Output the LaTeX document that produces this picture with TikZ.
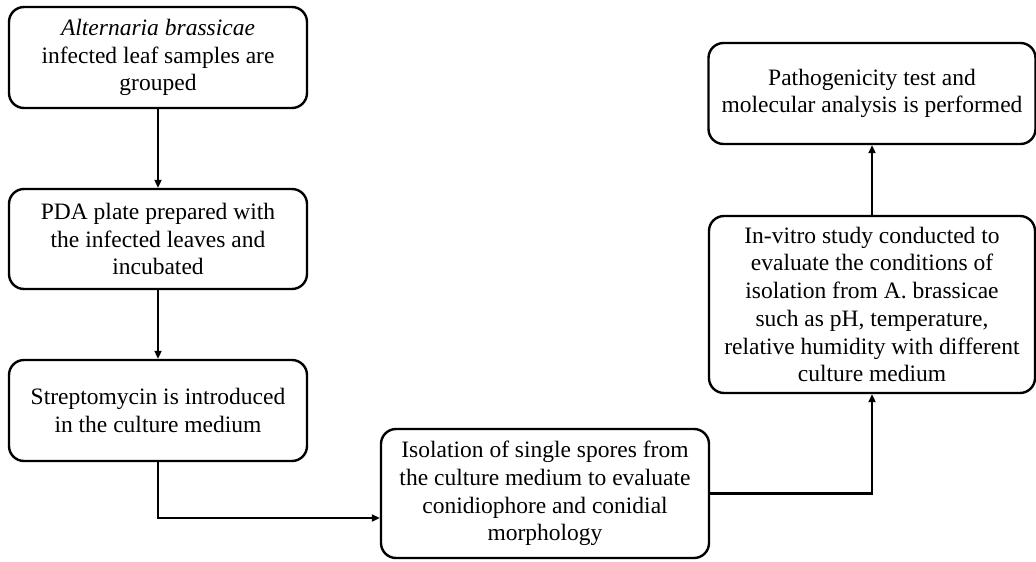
\documentclass[tikz,border=0pt]{standalone}
\usepackage{fontspec}
\setmainfont{Liberation Serif}
\usetikzlibrary{arrows.meta}
\begin{document}
\begin{tikzpicture}[x=1pt,y=-1pt,
  box/.style={draw, line width=2.4pt, rounded corners=15pt, align=center,
    font=\fontsize{23.5}{27.7}\selectfont, inner sep=0pt},
  arr/.style={-{Triangle[length=8pt,width=7pt]}, line width=2.2pt}]
\useasboundingbox (0,0) rectangle (1036,562);
\node[box, minimum width=298pt, minimum height=101pt] (b1) at (158,57.5)
  {\textit{Alternaria brassicae}\\infected leaf samples are\\grouped};
\node[box, minimum width=298pt, minimum height=100pt] (b2) at (158,239)
  {PDA plate prepared with\\the infected leaves and\\incubated};
\node[box, minimum width=298pt, minimum height=101pt] (b3) at (158,410.5)
  {Streptomycin is introduced\\in the culture medium};
\node[box, minimum width=328pt, minimum height=129pt] (b4) at (545,493.5)
  {Isolation of single spores from\\the culture medium to evaluate\\conidiophore and conidial\\morphology};
\node[box, minimum width=326pt, minimum height=177pt] (b5) at (872,304.5)
  {In-vitro study conducted to\\evaluate the conditions of\\isolation from A. brassicae\\such as pH, temperature,\\relative humidity with different\\culture medium};
\node[box, minimum width=327pt, minimum height=101pt] (b6) at (872,93.5)
  {Pathogenicity test and\\molecular analysis is performed};
\draw[arr] (b1.south) -- (b2.north);
\draw[arr] (b2.south) -- (b3.north);
\draw[arr] (b3.south) |- ([yshift=-24.5pt]b4.west);
\draw[arr] (b4.east) -| (b5.south);
\draw[arr] (b5.north) -- (b6.south);
\end{tikzpicture}
\end{document}
